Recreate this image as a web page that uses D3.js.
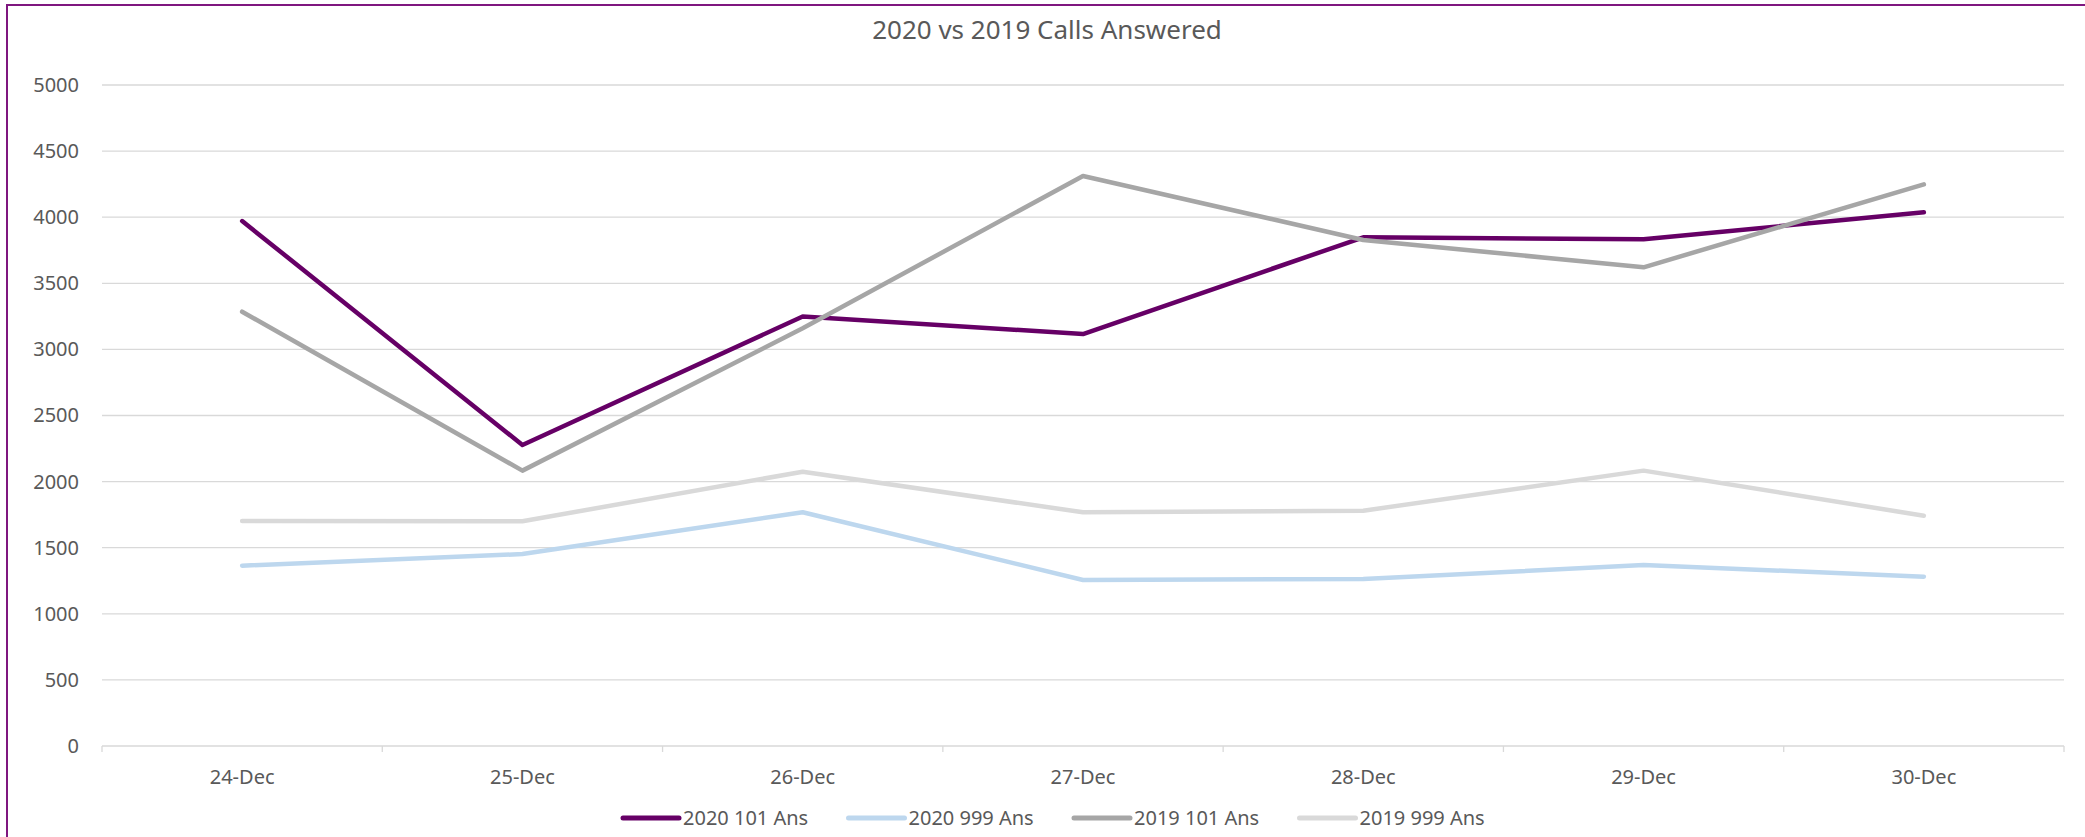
<!DOCTYPE html>
<html>
<head>
<meta charset="utf-8">
<script src="https://cdn.jsdelivr.net/npm/d3@7"></script>
<style>
  body { margin: 0; background: #fff; }
  text { font-family: "Noto Sans", sans-serif; fill: #595959; }
</style>
</head>
<body>
<div id="chart"></div>
<script>
// Data
var days = ["24-Dec", "25-Dec", "26-Dec", "27-Dec", "28-Dec", "29-Dec", "30-Dec"];
var ans2020_101 = [3971, 2277, 3249, 3116, 3848, 3833, 4037];
var ans2020_999 = [1364, 1452, 1768, 1256, 1263, 1369, 1281];
var ans2019_101 = [3285, 2083, 3160, 4312, 3828, 3621, 4248];
var ans2019_999 = [1702, 1700, 2075, 1768, 1780, 2083, 1742];
var seriesNames = ["2020 101 Ans", "2020 999 Ans", "2019 101 Ans", "2019 999 Ans"];
var yTicks = [0, 500, 1000, 1500, 2000, 2500, 3000, 3500, 4000, 4500, 5000];

var colors = ["#660066", "#bdd7ee", "#a6a6a6", "#d9d9d9"];
var allSeries = [ans2020_101, ans2020_999, ans2019_101, ans2019_999];

var W = 2085, H = 837;
var margin = { top: 85, right: 21, bottom: 91, left: 102 },
    width = W - margin.left - margin.right,
    height = H - margin.top - margin.bottom;

var root = d3.select("#chart")
  .append("svg")
  .attr("width", W)
  .attr("height", H);

// chart frame (only top and left edges are inside the picture)
root.append("rect")
  .attr("x", 7).attr("y", 5)
  .attr("width", W + 20).attr("height", H + 20)
  .attr("fill", "none")
  .attr("stroke", "#7f177f")
  .attr("stroke-width", 2);

root.append("text")
  .attr("x", 1047)
  .attr("y", 39)
  .attr("text-anchor", "middle")
  .style("font-size", "26px")
  .text("2020 vs 2019 Calls Answered");

var svg = root.append("g")
  .attr("transform", "translate(" + margin.left + "," + margin.top + ")");

var xBand = d3.scaleBand().domain(days).range([0, width]);
var y = d3.scaleLinear().domain([0, 5000]).range([height, 0]);

// gridlines
svg.selectAll(".grid")
  .data(yTicks.slice(1))
  .enter()
  .append("line")
  .attr("x1", 0).attr("x2", width)
  .attr("y1", function (d) { return y(d); })
  .attr("y2", function (d) { return y(d); })
  .attr("stroke", "#d9d9d9")
  .attr("stroke-width", 1.3);

// y labels
var yAxis = d3.axisLeft(y).tickValues(yTicks).tickFormat(d3.format("d")).tickSize(0).tickPadding(23);
var yg = svg.append("g").call(yAxis);
yg.select(".domain").remove();
yg.selectAll("text").style("font-size", "20px").attr("fill", "#595959");

// x axis with tick marks between categories
svg.append("line")
  .attr("x1", 0).attr("x2", width)
  .attr("y1", height).attr("y2", height)
  .attr("stroke", "#d9d9d9")
  .attr("stroke-width", 1.3);

var boundaries = days.map(function (d) { return xBand(d); }).concat([width]);
svg.selectAll(".xtick")
  .data(boundaries)
  .enter()
  .append("line")
  .attr("x1", function (d) { return d; })
  .attr("x2", function (d) { return d; })
  .attr("y1", height).attr("y2", height + 6)
  .attr("stroke", "#d9d9d9")
  .attr("stroke-width", 1.3);

svg.selectAll(".xlabel")
  .data(days)
  .enter()
  .append("text")
  .attr("x", function (d) { return xBand(d) + xBand.bandwidth() / 2; })
  .attr("y", height + 38)
  .attr("text-anchor", "middle")
  .style("font-size", "20px")
  .text(function (d) { return d; });

// lines
var line = d3.line()
  .x(function (d, i) { return xBand(days[i]) + xBand.bandwidth() / 2; })
  .y(function (d) { return y(d); });

allSeries.forEach(function (s, k) {
  svg.append("path")
    .datum(s)
    .attr("d", line)
    .attr("fill", "none")
    .attr("stroke", colors[k])
    .attr("stroke-width", 4.5)
    .attr("stroke-linejoin", "round")
    .attr("stroke-linecap", "round");
});

// legend
var legend = root.append("g").attr("transform", "translate(623,818)");
seriesNames.forEach(function (name, k) {
  var g = legend.append("g").attr("transform", "translate(" + (k * 225.5) + ",0)");
  g.append("line")
    .attr("x1", 0).attr("x2", 56)
    .attr("y1", 0).attr("y2", 0)
    .attr("stroke", colors[k])
    .attr("stroke-width", 5)
    .attr("stroke-linecap", "round");
  g.append("text")
    .attr("x", 60)
    .attr("y", 7)
    .style("font-size", "20px")
    .text(name);
});
</script>
</body>
</html>
